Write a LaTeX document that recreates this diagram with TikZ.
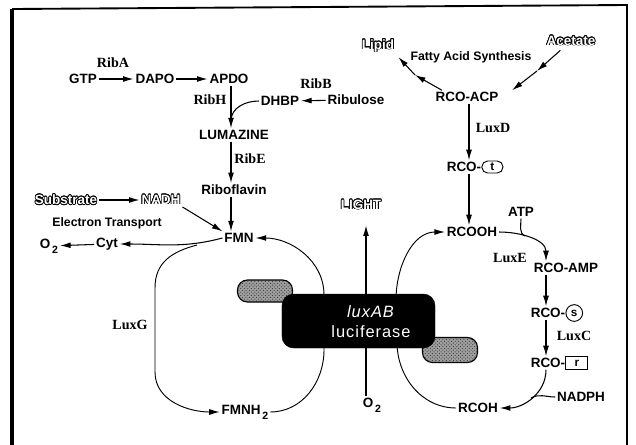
\documentclass[tikz,border=0pt]{standalone}
\usepackage{fontspec}
\setmainfont{Liberation Serif}
\setsansfont{Liberation Sans}
\usepackage{xcolor}
\usepackage{contour}
\contourlength{0.6pt}
\usepackage{tikz}
\usetikzlibrary{arrows.meta}
\usetikzlibrary{patterns}

\newcommand{\hollow}[1]{\textcolor{white}{\contour{black}{#1}}}
\newcommand{\lowtwo}{\raisebox{-4.5pt}{\fontsize{9}{9}\selectfont\,2}}

\tikzset{
  chem/.style={font=\sffamily\bfseries\fontsize{11.5}{13}\selectfont,inner sep=1.5pt},
  enz/.style={font=\rmfamily\bfseries\fontsize{12}{14}\selectfont,inner sep=1pt},
  note/.style={font=\sffamily\bfseries\fontsize{10.5}{12}\selectfont,inner sep=1pt},
  tagbox/.style={draw,line width=0.8pt,font=\sffamily\bfseries\fontsize{10}{12}\selectfont,inner sep=1pt,anchor=west},
  rx/.style={-{Latex[length=9pt,width=5pt]},line width=0.9pt},
  cycleline/.style={line width=0.8pt},
  pill/.style={draw=black,line width=1pt,rounded corners=0.3cm,fill=gray!75,
    postaction={pattern=crosshatch dots,pattern color=black!80}},
  luxbox/.style={fill=black,draw=black,rounded corners=0.35cm,minimum width=4.59cm,minimum height=1.62cm}
}

\begin{document}
\begin{tikzpicture}[x=0.03cm,y=-0.03cm]
            \useasboundingbox (0,0) rectangle (636,445);
            \draw[line width=1.6pt] (13,450) -- (13,9) -- (627,5) -- (627,450);
            \draw[line width=1pt] (11,450) -- (11,9);

            %%%% riboflavin branch
            \coordinate (ribaxis) at (231,0);
            \node[enz] (ribA) at (113,63) {RibA};
            \node[chem] (gtp) at (83,79) {GTP};
            \node[chem] (dapo) at (155,79) {DAPO};
            \node[chem] (apdo) at (229,79) {APDO};
            \node[enz] (ribH) at (210,100) {RibH};
            \node[chem] (dhbp) at (280,101) {DHBP};
            \node[enz] (ribB) at (316,84) {RibB};
            \node[chem] (ribulose) at (356,100) {Ribulose};
            \node[chem] (lumazine) at (234,135) {LUMAZINE};
            \node[enz] (ribE) at (250,159) {RibE};
            \node[chem] (riboflavin) at (234,190) {Riboflavin};
            \coordinate (hjoin) at (231,121);

            \draw[rx] (gtp) -- (dapo);
            \draw[rx] (dapo) -- (apdo);
            \draw[rx] (ribulose) -- (dhbp);
            \draw[rx] (apdo.south -| ribaxis) -- (lumazine.north -| ribaxis);
            \draw[line width=0.9pt] (dhbp.west) to[out=180,in=90] (hjoin);
            \draw[rx] (lumazine.south -| ribaxis) -- (riboflavin.north -| ribaxis);

            %%%% FMN cycle
            \node[chem] (substrate) at (66,200) {\hollow{Substrate}};
            \node[chem] (nadh) at (161,200) {\hollow{NADH}};
            \node[note] (etrans) at (107,223) {Electron Transport};
            \node[chem] (fmn) at (239,238) {FMN};
            \node[chem] (cyt) at (107,244) {Cyt};
            \node[chem] (o2l) at (49,246) {O\lowtwo};
            \node[enz] (luxG) at (130,325) {LuxG};
            \node[chem] (fmnh) at (245,412) {FMNH\lowtwo};
            \coordinate (gbr) at (197,245);
            \coordinate (gLt) at (155,288);
            \coordinate (gLb) at (155,372);
            \coordinate (gRt) at (324,295);
            \coordinate (gRb) at (324,350);

            \draw[rx] (riboflavin.south -| ribaxis) -- (fmn.north -| ribaxis);
            \draw[rx] (substrate) -- (nadh);
            \draw[rx] (nadh.south east) -- (fmn.north west);
            \draw[rx] (fmn.west) to[out=195,in=0] (cyt.east);
            \draw[rx] (cyt) -- (o2l);
            \draw[rx,cycleline] (gbr) to[out=195,in=90,looseness=1.1] (gLt) -- (gLb) to[out=270,in=180] (fmnh.west);
            \draw[rx,cycleline] (fmnh.east) to[out=0,in=270] (gRb) -- (gRt) to[out=90,in=0] (fmn.east);

            %%%% fatty acid branch
            \coordinate (fax) at (469,0);
            \coordinate (sax) at (546,0);
            \node[chem] (lipid) at (378,46) {\hollow{Lipid}};
            \node[note] (fas) at (471,57) {Fatty Acid Synthesis};
            \node[chem] (acetate) at (571,41) {\hollow{Acetate}};
            \node[chem] (rcoacp) at (467,97) {RCO-ACP};
            \node[enz] (luxD) at (493,128) {LuxD};
            \node[chem] (rcot) at (464,167) {RCO-};
            \node[tagbox,rounded corners=0.17cm,minimum width=0.63cm,minimum height=0.36cm] (tagt) at ([xshift=-1.5pt]rcot.east) {t};
            \node[chem] (rcooh) at (472,232) {RCOOH};
            \node[chem] (atp) at (521,212) {ATP};
            \node[enz] (luxE) at (510,258) {LuxE};
            \node[chem] (rcoamp) at (566,268) {RCO-AMP};
            \node[chem] (rcos) at (548,313) {RCO-};
            \node[tagbox,circle,minimum size=0.5cm] (tags) at ([xshift=-1.5pt]rcos.east) {s};
            \node[enz] (luxC) at (574,336) {LuxC};
            \node[chem] (rcor) at (548,363) {RCO-};
            \node[tagbox,minimum width=0.66cm,minimum height=0.38cm] (tagr) at ([xshift=-1.5pt]rcor.east) {r};
            \node[chem] (nadph) at (581,397) {NADPH};
            \node[chem] (rcoh) at (478,408) {RCOH};
            \coordinate (acm) at (537,71);
            \coordinate (lpm) at (415,75);
            \coordinate (atj) at (525,236);
            \coordinate (npj) at (531,398);
            \coordinate (eLt) at (396,300);
            \coordinate (eLb) at (397,342);

            \draw[rx,shorten <=3pt] (acetate) -- (acm);
            \draw[rx] (acm) -- ([xshift=0.35cm]rcoacp.north east);
            \draw[rx] ([xshift=0.25cm]rcoacp.north west) -- (lpm);
            \draw[rx,shorten >=3pt] (lpm) -- (lipid.south east);
            \draw[rx] (rcoacp.south -| fax) -- (rcot.north -| fax);
            \draw[rx] (rcot.south -| fax) -- (rcooh.north -| fax);
            \draw[rx] (rcooh.east) to[out=0,in=90] (rcoamp.north -| sax);
            \draw[line width=0.9pt] (atp.south) to[out=270,in=155] (atj);
            \draw[rx] (rcoamp.south -| sax) -- (rcos.north -| sax);
            \draw[rx] (rcos.south -| sax) -- (rcor.north -| sax);
            \draw[rx] (rcor.south -| sax) to[out=270,in=0] (rcoh.east);
            \draw[line width=0.9pt] (nadph.west) to[out=180,in=30] (npj);
            \draw[rx,cycleline] (rcoh.west) to[out=180,in=270] (eLb) -- (eLt) to[out=90,in=180] (rcooh.west);

            %%%% luciferase
            \coordinate (lightaxis) at (366,0);
            \node[pill,minimum width=1.65cm,minimum height=0.66cm] (flavL) at (265,291) {};
            \node[pill,minimum width=1.65cm,minimum height=0.75cm] (flavR) at (450,350) {};
            \node[luxbox] (lux) at (358.5,321) {};
            \node[font=\sffamily\fontsize{14}{17}\selectfont\addfontfeatures{LetterSpace=6},text=white,align=center,inner sep=0pt] (luxtxt) at (371,322) {\textit{luxAB}\\luciferase};
            \node[chem] (light) at (361,205) {\hollow{LIGHT}};
            \node[chem] (o2b) at (372,405) {O\lowtwo};
            \draw[rx,shorten >=0.4cm] (lux.north -| lightaxis) -- (light.south -| lightaxis);
            \draw[line width=0.9pt] (o2b.north -| lightaxis) -- (lux.south -| lightaxis);
\end{tikzpicture}
\end{document}
